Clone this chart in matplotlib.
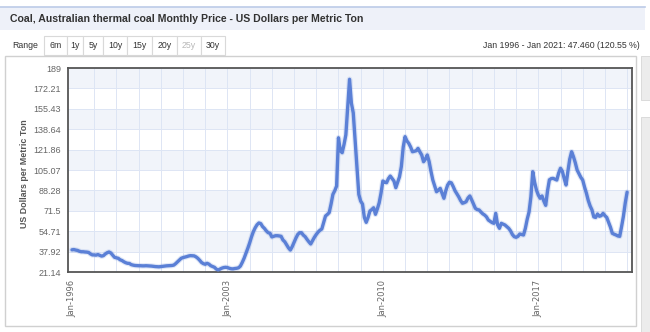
import matplotlib.pyplot as plt
import numpy as np
from matplotlib.patches import Rectangle

# canvas size in pixels (dpi 100)
W, H = 650, 332

TITLE = "Coal, Australian thermal coal Monthly Price - US Dollars per Metric Ton"
RANGE_BUTTONS = ["6m", "1y", "5y", "10y", "15y", "20y", "25y", "30y"]
DISABLED_BUTTON = "25y"
SUMMARY = "Jan 1996 - Jan 2021: 47.460 (120.55 %)"
Y_LABEL = "US Dollars per Metric Ton"
Y_TICKS = [21.14, 37.92, 54.71, 71.5, 88.28, 105.07, 121.86, 138.64, 155.43, 172.21, 189]
X_TICK_YEARS = [1996, 2003, 2010, 2017]
START_YEAR = 1996

# monthly prices, USD per metric ton
PRICE_1996 = [39.4, 39.6, 39.2, 38.9, 38.2, 37.8, 37.8, 37.6, 37.5, 37.2, 36.0, 35.2]
PRICE_1997 = [35.2, 35.0, 35.5, 34.8, 34.2, 34.6, 36.0, 37.0, 37.6, 36.8, 35.0, 33.2]
PRICE_1998 = [32.8, 32.4, 31.2, 30.6, 29.6, 28.8, 28.3, 28.2, 27.2, 26.8, 26.5, 26.4]
PRICE_1999 = [26.3, 26.3, 26.2, 26.2, 26.3, 26.2, 26.1, 26.0, 25.8, 25.6, 25.5, 25.4]
PRICE_2000 = [25.6, 25.8, 26.0, 26.2, 26.3, 26.4, 26.5, 26.8, 28.0, 29.5, 31.0, 32.4]
PRICE_2001 = [33.0, 33.4, 33.8, 34.3, 34.6, 34.5, 34.4, 33.6, 32.4, 30.8, 29.0, 28.0]
PRICE_2002 = [27.5, 28.3, 27.6, 26.3, 25.6, 25.0, 23.5, 22.8, 23.6, 24.3, 24.8, 25.0]
PRICE_2003 = [24.8, 24.2, 23.8, 23.7, 24.0, 24.2, 24.6, 26.0, 29.0, 32.4, 36.5, 40.6]
PRICE_2004 = [45.0, 50.0, 54.3, 57.5, 60.0, 61.5, 61.0, 58.5, 57.0, 55.0, 53.5, 53.0]
PRICE_2005 = [50.0, 50.5, 51.0, 51.0, 50.8, 50.5, 47.5, 46.0, 43.5, 41.0, 39.2, 42.0]
PRICE_2006 = [45.5, 49.0, 52.0, 53.5, 53.5, 51.5, 50.2, 48.0, 46.0, 44.2, 47.0, 49.7]
PRICE_2007 = [52.0, 54.0, 55.5, 56.5, 62.0, 67.2, 68.5, 70.0, 77.0, 85.0, 88.0, 91.9]
PRICE_2008 = [131.6, 121.0, 119.3, 126.0, 134.0, 157.0, 179.7, 160.0, 152.0, 130.0, 108.4, 85.0]
PRICE_2009 = [79.5, 77.0, 66.0, 62.0, 66.0, 71.3, 72.5, 74.0, 68.6, 73.0, 78.0, 86.0]
PRICE_2010 = [96.0, 95.0, 94.6, 98.0, 100.1, 98.0, 96.0, 90.5, 95.0, 99.5, 108.0, 124.0]
PRICE_2011 = [132.5, 129.0, 127.0, 124.0, 120.1, 120.5, 120.9, 122.9, 120.0, 117.4, 111.9, 114.0]
PRICE_2012 = [117.4, 112.0, 104.0, 96.8, 92.0, 87.2, 88.5, 90.0, 86.0, 81.8, 88.0, 92.7]
PRICE_2013 = [95.0, 94.5, 91.5, 88.0, 85.5, 83.0, 80.0, 77.7, 78.2, 79.0, 82.0, 83.7]
PRICE_2014 = [80.5, 77.0, 73.5, 72.5, 72.2, 70.5, 69.0, 68.0, 66.5, 63.9, 62.8, 61.8]
PRICE_2015 = [61.2, 69.4, 60.0, 57.1, 61.2, 60.5, 59.8, 58.5, 57.1, 55.0, 52.0, 50.2]
PRICE_2016 = [49.7, 50.5, 52.4, 52.0, 51.6, 57.0, 64.5, 70.5, 83.0, 103.7, 95.0, 88.6]
PRICE_2017 = [84.5, 81.8, 83.7, 79.5, 76.0, 88.0, 97.0, 98.0, 98.2, 97.5, 96.8, 102.5]
PRICE_2018 = [106.5, 104.0, 98.0, 92.7, 104.0, 114.0, 120.1, 116.0, 111.0, 105.0, 102.0, 99.0]
PRICE_2019 = [96.8, 91.0, 86.0, 80.0, 75.5, 72.2, 66.5, 66.0, 68.9, 67.0, 67.5, 69.4]
PRICE_2020 = [67.5, 66.0, 62.0, 58.0, 53.0, 52.2, 51.6, 50.8, 50.5, 58.4, 67.0, 78.0]
PRICE_2021 = [86.83]

PRICES = np.array(
    PRICE_1996 + PRICE_1997 + PRICE_1998 + PRICE_1999 + PRICE_2000 + PRICE_2001
    + PRICE_2002 + PRICE_2003 + PRICE_2004 + PRICE_2005 + PRICE_2006 + PRICE_2007
    + PRICE_2008 + PRICE_2009 + PRICE_2010 + PRICE_2011 + PRICE_2012 + PRICE_2013
    + PRICE_2014 + PRICE_2015 + PRICE_2016 + PRICE_2017 + PRICE_2018 + PRICE_2019
    + PRICE_2020 + PRICE_2021
)

TEXT_DARK = "#333333"
TEXT_GRAY = "#666666"
LINE_BLUE = "#5b80d6"
BAND_FILL = "#f1f4fa"
GRID_BLUE = "#dde5f4"

plt.rcParams["font.family"] = ["Liberation Sans", "DejaVu Sans"]

fig = plt.figure(figsize=(W / 100, H / 100), dpi=100)

# page furniture drawn in pixel coordinates
bg = fig.add_axes([0, 0, 1, 1])
bg.set_xlim(0, W)
bg.set_ylim(H, 0)
bg.axis("off")

bg.add_patch(Rectangle((0, 7), 645, 23, facecolor="#eef1f9", edgecolor="none"))
bg.plot([0, 645], [7, 7], color="#bccbe8", lw=1.2)
bg.text(10, 18.5, TITLE, fontsize=7.55, fontweight="bold", color=TEXT_DARK, va="center")

bg.text(12, 45.5, "Range", fontsize=6.3, color=TEXT_DARK, va="center")
edges = [44, 67, 83, 103, 127, 152, 177, 201, 225]
for label, left, right in zip(RANGE_BUTTONS, edges[:-1], edges[1:]):
    bg.add_patch(Rectangle((left, 36), right - left, 19, facecolor="white",
                           edgecolor="#d9d9d9", lw=0.8))
    color = "#b8b8b8" if label == DISABLED_BUTTON else TEXT_DARK
    bg.text((left + right) / 2, 45.5, label, fontsize=6.3, color=color,
            ha="center", va="center")
bg.text(640, 45.5, SUMMARY, fontsize=6.3, color=TEXT_DARK, ha="right", va="center")

bg.add_patch(Rectangle((5, 56), 631, 270, facecolor="white", edgecolor="#d0d0d0", lw=1))
bg.add_patch(Rectangle((641, 56), 9, 44, facecolor="#ececec", edgecolor="#d6d6d6", lw=0.6))
bg.add_patch(Rectangle((641, 117), 9, 215, facecolor="#ececec", edgecolor="#d6d6d6", lw=0.6))

bg.text(25, 174, Y_LABEL, rotation=90, fontsize=6.4, fontweight="bold",
        color="#555555", ha="center", va="center")

# price chart
ax = fig.add_axes([68 / W, 1 - 272 / H, (632 - 68) / W, (272 - 68) / H])
x = START_YEAR + np.arange(len(PRICES)) / 12

for i in range(len(Y_TICKS) - 1):
    if i % 2 == 1:
        ax.axhspan(Y_TICKS[i], Y_TICKS[i + 1], color=BAND_FILL, lw=0, zorder=0)
for v in Y_TICKS:
    ax.axhline(v, color=GRID_BLUE, lw=0.7, zorder=1)
for year in range(START_YEAR + 1, START_YEAR + 26):
    ax.axvline(year, color=GRID_BLUE, lw=0.7, zorder=1)

# soft halo under the series line
ax.plot(x, PRICES, color=LINE_BLUE, lw=4.0, alpha=0.18, solid_joinstyle="round",
        solid_capstyle="round", zorder=2)
ax.plot(x, PRICES, color=LINE_BLUE, lw=2.4, solid_joinstyle="round",
        solid_capstyle="round", zorder=3)

ax.set_xlim(1995.82, 2021.22)
ax.set_ylim(Y_TICKS[0], Y_TICKS[-1])
ax.set_yticks(Y_TICKS)
ax.set_yticklabels([f"{v:g}" for v in Y_TICKS], fontsize=6.5, color=TEXT_GRAY)
ax.set_xticks(X_TICK_YEARS)
ax.set_xticklabels([f"Jan-{y}" for y in X_TICK_YEARS], rotation=90, fontsize=6,
                   color=TEXT_GRAY, family="DejaVu Sans", va="top")
ax.tick_params(axis="y", length=0, pad=5)
ax.tick_params(axis="x", length=0, pad=6)
for spine in ax.spines.values():
    spine.set_color("#555555")
    spine.set_linewidth(1.3)

fig.savefig("out.png", dpi=100)
